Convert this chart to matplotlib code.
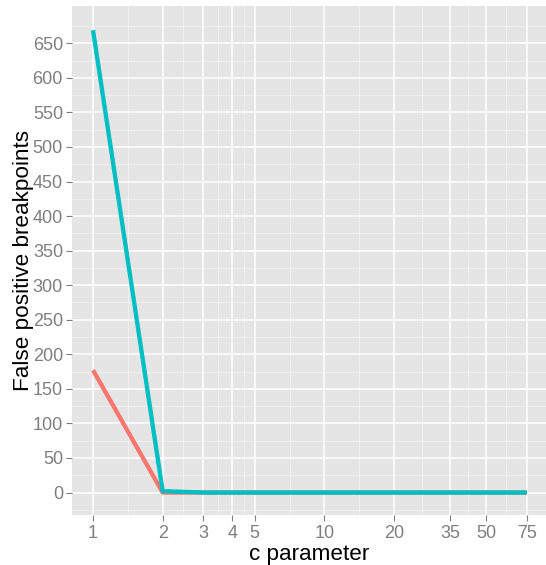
import matplotlib
matplotlib.use("Agg")
import matplotlib.pyplot as plt
import numpy as np

plt.rcParams['font.family'] = ['Liberation Sans', 'DejaVu Sans']

c_values = [1, 2, 3, 4, 5, 10, 20, 35, 50, 75]
series_red = [177, 0, 0, 0, 0, 0, 0, 0, 0, 0]
series_teal = [669, 2, 0, 0, 0, 0, 0, 0, 0, 0]
y_breaks = list(range(0, 651, 50))

RED = "#F8766D"
TEAL = "#00BFC4"
GREY = "#7F7F7F"

fig = plt.figure(figsize=(5.46, 5.65), dpi=100)
ax = fig.add_axes([0.1319, 0.0885, 0.8681, 0.9009])
ax.set_facecolor("#E5E5E5")

ax.set_xscale("log")
ax.set_xlim(10 ** -0.0908, 10 ** 1.958)
ax.set_ylim(-32.5, 704)

# minor breaks sit halfway between the major ones in transformed space
logs = np.log10(c_values)
x_minor = 10 ** ((logs[:-1] + logs[1:]) / 2)
y_minor = np.arange(-25, 700, 50)

for x in x_minor:
    ax.axvline(x, color="#F2F2F2", lw=0.6, zorder=0)
for y in y_minor:
    ax.axhline(y, color="#F2F2F2", lw=0.6, zorder=0)
for x in c_values:
    ax.axvline(x, color="white", lw=1.1, zorder=0.5)
for y in y_breaks:
    ax.axhline(y, color="white", lw=1.1, zorder=0.5)

ax.plot(c_values, series_red, color=RED, lw=3.1, solid_capstyle="butt",
        solid_joinstyle="round", zorder=2)
ax.plot(c_values, series_teal, color=TEAL, lw=3.1, solid_capstyle="butt",
        solid_joinstyle="round", zorder=3)

ax.xaxis.set_major_locator(matplotlib.ticker.FixedLocator(c_values))
ax.xaxis.set_major_formatter(matplotlib.ticker.FixedFormatter([str(v) for v in c_values]))
ax.xaxis.set_minor_locator(matplotlib.ticker.NullLocator())
ax.set_yticks(y_breaks)

ax.tick_params(axis="both", colors=GREY, labelcolor=GREY, labelsize=13,
               length=4.5, width=0.8)
ax.tick_params(axis="x", pad=3)
ax.tick_params(axis="y", pad=2)

for s in ax.spines.values():
    s.set_visible(False)

ax.set_xlabel("c parameter", fontsize=16.2, color="black", labelpad=1)
ax.set_ylabel("False positive breakpoints", fontsize=16.2, color="black", labelpad=-1)

fig.savefig("out.png", dpi=100)
